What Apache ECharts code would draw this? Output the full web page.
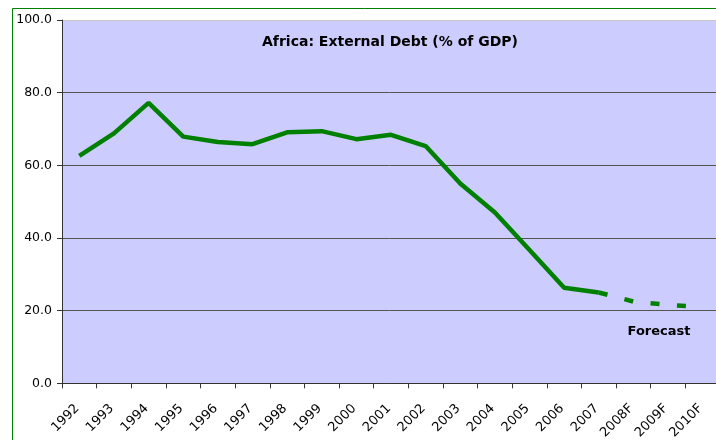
<!DOCTYPE html>
<html>
<head>
<meta charset="utf-8">
<script src="https://cdn.jsdelivr.net/npm/echarts@6/dist/echarts.min.js"></script>
<style>html,body{margin:0;padding:0;background:#fff}#c{width:716px;height:440px}</style>
</head>
<body>
<div id="c"></div>
<script>
var years = ['1992','1993','1994','1995','1996','1997','1998','1999','2000','2001','2002','2003','2004','2005','2006','2007','2008F','2009F','2010F'];
var actual = [62.6, 68.8, 77.2, 67.9, 66.4, 65.8, 69.1, 69.4, 67.2, 68.4, 65.3, 55.0, 47.0, 36.7, 26.3, 25.0, null, null, null];
var forecast = [null, null, null, null, null, null, null, null, null, null, null, null, null, null, null, 25.0, 22.5, 21.6, 21.0];
var yTicks = [0, 20, 40, 60, 80, 100];
var titleText = 'Africa: External Debt (% of GDP)';
var noteText = 'Forecast';

var chart = echarts.init(document.getElementById('c'), null, {renderer: 'canvas'});
chart.setOption({
  animation: false,
  backgroundColor: '#ffffff',
  grid: {left: 62, top: 20, width: 658, height: 363.3, show: true, backgroundColor: '#CCCCFF', borderWidth: 0, containLabel: false, outerBoundsMode: 'none'},
  xAxis: {
    type: 'category',
    data: years,
    boundaryGap: true,
    axisLine: {lineStyle: {color: '#333333', width: 1}},
    axisTick: {show: true, length: 5, lineStyle: {color: '#333333'}},
    axisLabel: {rotate: 45, margin: 21, padding: [0, 3, 0, 0], color: '#000', fontFamily: 'DejaVu Sans', fontSize: 13, interval: 0},
    splitLine: {show: false}
  },
  yAxis: {
    type: 'value',
    min: yTicks[0], max: yTicks[yTicks.length - 1], interval: 20,
    axisLine: {show: true, lineStyle: {color: '#333333', width: 1}},
    axisTick: {show: true, length: 5, lineStyle: {color: '#333333'}},
    axisLabel: {margin: 10, color: '#000', fontFamily: 'DejaVu Sans', fontSize: 12.5, formatter: function (v) { return v.toFixed(1); }},
    splitLine: {show: true, lineStyle: {color: ['#555555', '#555555', '#555555', '#555555', '#555555', '#c8c8c8'], width: 1}}
  },
  series: [
    {type: 'line', data: actual, symbol: 'none', connectNulls: false,
     lineStyle: {color: '#008000', width: 4.5}, itemStyle: {color: '#008000'}, z: 3},
    {type: 'line', data: forecast, symbol: 'none', connectNulls: false,
     lineStyle: {color: '#008000', width: 4.5, type: [9, 17.5]}, itemStyle: {color: '#008000'}, z: 3}
  ],
  graphic: [
    {type: 'rect', shape: {x: 12.5, y: 8.5, width: 800, height: 500}, style: {fill: 'none', stroke: '#008000', lineWidth: 1}, z: 10},
    {type: 'text', x: 390, y: 42, style: {text: titleText, fontFamily: 'DejaVu Sans', fontWeight: 'bold', fontSize: 14, fill: '#000', textAlign: 'center', textVerticalAlign: 'middle'}, z: 10},
    {type: 'text', x: 659, y: 332, style: {text: noteText, fontFamily: 'DejaVu Sans', fontWeight: 'bold', fontSize: 13, fill: '#000', textAlign: 'center', textVerticalAlign: 'middle'}, z: 10}
  ]
});
</script>
</body>
</html>
